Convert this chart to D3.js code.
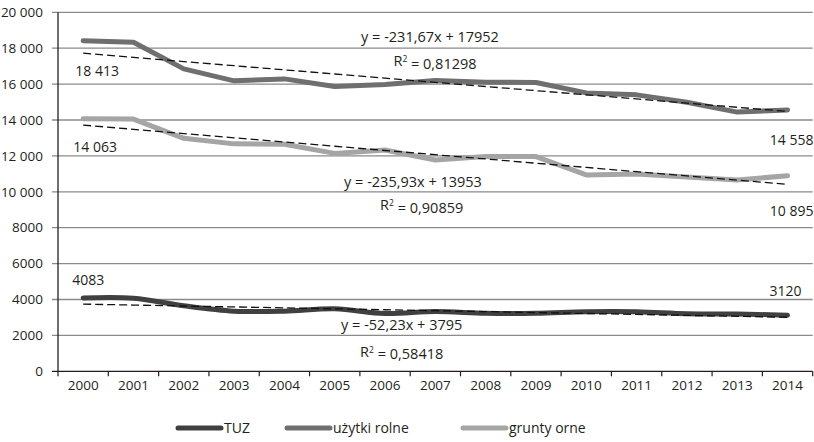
<!DOCTYPE html>
<html>
<head>
<meta charset="utf-8">
<script src="https://cdn.jsdelivr.net/npm/d3@7"></script>
<style>
  body { margin: 0; background: #fff; }
  text { font-family: "Open Sans", "Noto Sans", sans-serif; fill: #231f20; }
</style>
</head>
<body>
<div id="chart"></div>
<script>
// data
var years = ["2000","2001","2002","2003","2004","2005","2006","2007","2008","2009","2010","2011","2012","2013","2014"];
var uzytki = [18413, 18330, 16850, 16180, 16290, 15870, 15980, 16200, 16110, 16090, 15510, 15400, 14990, 14440, 14558];
var grunty = [14063, 14050, 12980, 12670, 12650, 12140, 12330, 11770, 11960, 11960, 10940, 10990, 10820, 10660, 10895];
var tuz    = [4083, 4070, 3650, 3350, 3350, 3480, 3220, 3330, 3230, 3230, 3320, 3320, 3210, 3190, 3120];
var yTicks = [0, 2000, 4000, 6000, 8000, 10000, 12000, 14000, 16000, 18000, 20000];
// trendline coefficients (y = a*x + b, x = 1..15), from the chart labels
var trendA = [-231.67, -235.93, -52.23];
var trendB = [17952, 13953, 3795];
var eqText = ["y = -231,67x + 17952", "y = -235,93x + 13953", "y = -52,23x + 3795"];
var r2Text = ["0,81298", "0,90859", "0,58418"];
var seriesNames = ["TUZ", "użytki rolne", "grunty orne"];

var width = 814, height = 442;
var plotL = 58, plotR = 812.7, plotT = 12.3, plotB = 371.3;

var svg = d3.select("#chart")
    .append("svg")
    .attr("width", width)
    .attr("height", height);

var x = d3.scaleBand()
    .domain(years)
    .range([plotL, plotR]);

var y = d3.scaleLinear()
    .domain([0, 20000])
    .range([plotB, plotT]);

var cx = function(i) { return x(years[i]) + x.bandwidth() / 2; };
var fmt = function(v) { return v >= 10000 ? d3.format(",")(v).replace(",", " ") : String(v); };

// gridlines
svg.append("g")
    .selectAll("line")
    .data(yTicks.filter(function(d) { return d > 0; }))
    .enter()
    .append("line")
    .attr("x1", plotL - 6)
    .attr("x2", plotR)
    .attr("y1", function(d) { return y(d); })
    .attr("y2", function(d) { return y(d); })
    .style("stroke", "#8a8a8a")
    .style("stroke-width", 1.3);

// y labels
svg.append("g")
    .selectAll("text")
    .data(yTicks)
    .enter()
    .append("text")
    .attr("x", 43)
    .attr("y", function(d) { return y(d); })
    .attr("dy", "0.35em")
    .attr("text-anchor", "end")
    .style("font-size", "13.5px")
    .text(fmt);

// axes lines
svg.append("line")
    .attr("x1", plotL).attr("x2", plotL)
    .attr("y1", plotT).attr("y2", plotB)
    .style("stroke", "#231f20").style("stroke-width", 1.3);

var xAxis = svg.append("g")
    .attr("transform", "translate(0," + plotB + ")")
    .call(d3.axisBottom(x).tickSize(0).tickPadding(9));
xAxis.select(".domain").remove();
xAxis.selectAll("text")
    .style("font-size", "13.5px")
    .style("font-family", "Open Sans")
    .attr("fill", "#231f20");

svg.append("line")
    .attr("x1", plotL - 6).attr("x2", plotR)
    .attr("y1", plotB).attr("y2", plotB)
    .style("stroke", "#231f20").style("stroke-width", 1.3);

var bounds = years.map(function(d) { return x(d); }).concat([plotR]);
svg.append("g")
    .selectAll("line")
    .data(bounds)
    .enter()
    .append("line")
    .attr("x1", function(d) { return d; })
    .attr("x2", function(d) { return d; })
    .attr("y1", plotB)
    .attr("y2", plotB + 5)
    .style("stroke", "#231f20")
    .style("stroke-width", 1.2);

// series lines
var colors = ["#404040", "#6f6f6f", "#a5a5a5"];
var series = [tuz, uzytki, grunty];
var curves = [d3.curveCatmullRom.alpha(0.5), d3.curveLinear, d3.curveLinear];

[1, 2, 0].forEach(function(k) {
    var line = d3.line()
        .x(function(d, i) { return cx(i); })
        .y(function(d) { return y(d); })
        .curve(curves[k]);
    svg.append("path")
        .datum(series[k])
        .attr("d", line)
        .style("fill", "none")
        .style("stroke", colors[k])
        .style("stroke-width", 5)
        .style("stroke-linecap", "round")
        .style("stroke-linejoin", "round");
});

// trendlines (index 0 = uzytki, 1 = grunty, 2 = tuz)
trendA.forEach(function(a, j) {
    var b = trendB[j];
    var pts = years.map(function(d, i) { return a * (i + 1) + b; });
    svg.append("path")
        .datum(pts)
        .attr("d", d3.line()
            .x(function(d, i) { return cx(i); })
            .y(function(d) { return y(d); }))
        .style("fill", "none")
        .style("stroke", "#111")
        .style("stroke-width", 1.3)
        .style("stroke-dasharray", "8,4");
});

// equation labels
var eqPos = [[430, 36.7, 435, 61], [413, 181.7, 421.7, 205], [401.7, 325, 401.7, 351.7]];
eqText.forEach(function(t, j) {
    svg.append("text")
        .attr("x", eqPos[j][0]).attr("y", eqPos[j][1])
        .attr("dy", "0.35em")
        .attr("text-anchor", "middle")
        .style("font-size", "14.5px")
        .text(t);
    var r = svg.append("text")
        .attr("x", eqPos[j][2]).attr("y", eqPos[j][3])
        .attr("dy", "0.35em")
        .attr("text-anchor", "middle")
        .style("font-size", "14.5px");
    r.append("tspan").text("R");
    r.append("tspan").attr("dy", "-0.45em").style("font-size", "8.5px").text("2");
    r.append("tspan").attr("dy", "0.45em").text(" = " + r2Text[j]);
});

// first / last value labels
var valLabels = [
    {s: uzytki, i: 0, dx: 14, dy: 30, anchor: "middle"},
    {s: grunty, i: 0, dx: 12, dy: 28, anchor: "middle"},
    {s: tuz, i: 0, dx: 5, dy: -18, anchor: "middle"},
    {s: uzytki, i: 14, dx: 26, dy: 30, anchor: "end"},
    {s: grunty, i: 14, dx: 26, dy: 35, anchor: "end"},
    {s: tuz, i: 14, dx: 14, dy: -24, anchor: "end"}
];
valLabels.forEach(function(l) {
    svg.append("text")
        .attr("x", cx(l.i) + l.dx)
        .attr("y", y(l.s[l.i]) + l.dy)
        .attr("dy", "0.35em")
        .attr("text-anchor", l.anchor)
        .style("font-size", "14px")
        .text(fmt(l.s[l.i]));
});

// legend
var legX = [178, 287, 463];
seriesNames.forEach(function(n, k) {
    svg.append("line")
        .attr("x1", legX[k]).attr("x2", legX[k] + 43)
        .attr("y1", 428).attr("y2", 428)
        .style("stroke", colors[k])
        .style("stroke-width", 5)
        .style("stroke-linecap", "round");
    svg.append("text")
        .attr("x", legX[k] + 46)
        .attr("y", 428)
        .attr("dy", "0.35em")
        .style("font-size", "14px")
        .text(n);
});
</script>
</body>
</html>
